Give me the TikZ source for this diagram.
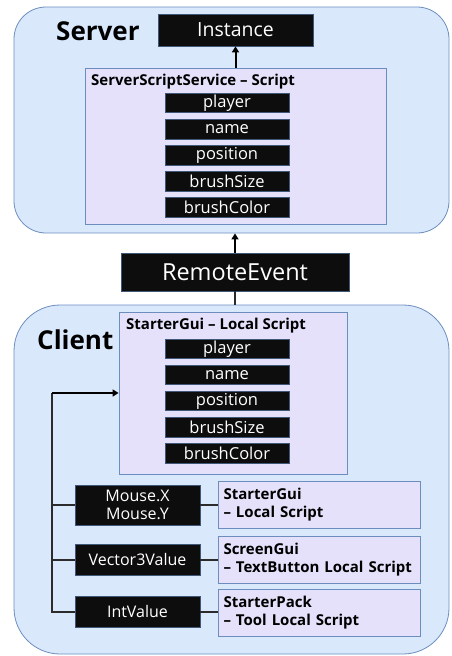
\documentclass[tikz,border=0pt]{standalone}
\usepackage{fontspec}
\setmainfont{Open Sans}
\usetikzlibrary{arrows.meta}
\definecolor{panelfill}{HTML}{DAE8FC}
\definecolor{paneledge}{HTML}{6C8EBF}
\definecolor{scriptfill}{HTML}{E5E1FA}
\definecolor{scriptedge}{HTML}{6C8EBF}
\definecolor{darkbox}{HTML}{0D0D0D}
\definecolor{darkedge}{HTML}{41577A}
\definecolor{wire}{HTML}{2B2B2B}
\tikzset{
  panel/.style={draw=paneledge, fill=panelfill, line width=0.8pt, inner sep=0pt},
  scriptbox/.style={draw=scriptedge, fill=scriptfill, line width=0.8pt, inner sep=0pt},
  darkitem/.style={draw=darkedge, fill=darkbox, text=white, line width=0.7pt, inner sep=0pt,
    minimum width=124pt, minimum height=19.5pt, font=\fontsize{16.5}{17}\selectfont},
  sidebox/.style={draw=darkedge, fill=darkbox, text=white, line width=0.7pt, inner sep=0pt,
    minimum width=125pt, align=center, font=\fontsize{16}{18}\selectfont},
  infobox/.style={draw=scriptedge, fill=scriptfill, line width=0.8pt, inner xsep=5pt, inner ysep=0pt,
    text width=192pt, minimum height=47pt, align=left, font=\bfseries\fontsize{15}{18}\selectfont},
  heading/.style={font=\bfseries\fontsize{26}{28}\selectfont, inner sep=0pt},
  boxtitle/.style={font=\bfseries\fontsize{15}{17}\selectfont, inner sep=0pt, anchor=west},
  conn/.style={draw=wire, line width=2pt},
  arr/.style={draw=black, line width=2pt, -{Triangle[width=7pt,length=6pt]}},
}
\begin{document}
\begin{tikzpicture}[x=1pt, y=-1pt]
\useasboundingbox (0,0) rectangle (451,656);

% ---- panels ----
\node[panel, rounded corners=32pt, minimum width=435pt, minimum height=226pt] (server) at (231.5,120) {};
\node[panel, rounded corners=46pt, minimum width=435pt, minimum height=349pt] (client) at (231.5,479.5) {};

\node[heading, anchor=west] (serverlbl) at (56,31) {Server};
\node[heading, anchor=west] (clientlbl) at (37,340) {Client};

% ---- server side ----
\node[draw=darkedge, fill=darkbox, text=white, line width=0.7pt, inner sep=0pt,
  minimum width=155pt, minimum height=32pt, font=\fontsize{19.5}{20}\selectfont] (inst) at (235.5,30) {Instance};

\node[scriptbox, minimum width=301pt, minimum height=156pt] (sss) at (235.5,146) {};
\node[boxtitle] (ssstitle) at (91,82) {ServerScriptService – Script};
\node[darkitem] (splayer) at (227,103) {player};
\node[darkitem] (sname)   at (227,129.5) {name};
\node[darkitem] (spos)    at (227,155.5) {position};
\node[darkitem] (ssize)   at (227,181.5) {brushSize};
\node[darkitem] (scolor)  at (227,207.5) {brushColor};

\draw[arr] (sss.north) -- (inst.south);

% ---- remote event ----
\node[draw=darkedge, fill=darkbox, text=white, line width=0.7pt, inner sep=0pt,
  minimum width=228pt, minimum height=38pt, font=\fontsize{23.5}{25}\selectfont] (remote) at (235,272) {RemoteEvent};
\draw[arr] (remote.north) -- (remote.north |- server.south);
\draw[conn] (remote.south) -- (remote.south |- client.north);

% ---- client side ----
\node[scriptbox, minimum width=228pt, minimum height=162pt] (local) at (233,393) {};
\node[boxtitle] (localtitle) at (126,326) {StarterGui – Local Script};
\node[darkitem] (cplayer) at (227,349) {player};
\node[darkitem] (cname)   at (227,375) {name};
\node[darkitem] (cpos)    at (227,401) {position};
\node[darkitem] (csize)   at (227,427.5) {brushSize};
\node[darkitem] (ccolor)  at (227,453.5) {brushColor};

\node[sidebox, minimum height=40pt] (mouse) at (137.5,505) {Mouse.X\\Mouse.Y};
\node[sidebox, minimum height=31pt] (vec)   at (137.5,559.5) {Vector3Value};
\node[sidebox, minimum height=31pt] (intv)  at (137.5,611.5) {IntValue};

\node[infobox] (gui)    at (319.5,504.5) {StarterGui\\– Local Script};
\node[infobox] (screen) at (319.5,559.5) {ScreenGui\\– TextButton Local Script};
\node[infobox] (pack)   at (319.5,613)   {StarterPack\\– Tool Local Script};

% ---- bus on the left feeding the local script ----
\coordinate (bustop) at (52,393);
\draw[conn] (intv.west) -| (bustop);
\draw[arr] (bustop) -- (bustop -| local.west);
\draw[conn] (mouse.west) -- (mouse.west -| bustop);
\draw[conn] (vec.west) -- (vec.west -| bustop);

% ---- value objects to their scripts ----
\draw[conn] (mouse.east) -- (mouse.east -| gui.west);
\draw[conn] (vec.east) -- (vec.east -| screen.west);
\draw[conn] (intv.east) -- (intv.east -| pack.west);
\end{tikzpicture}
\end{document}
